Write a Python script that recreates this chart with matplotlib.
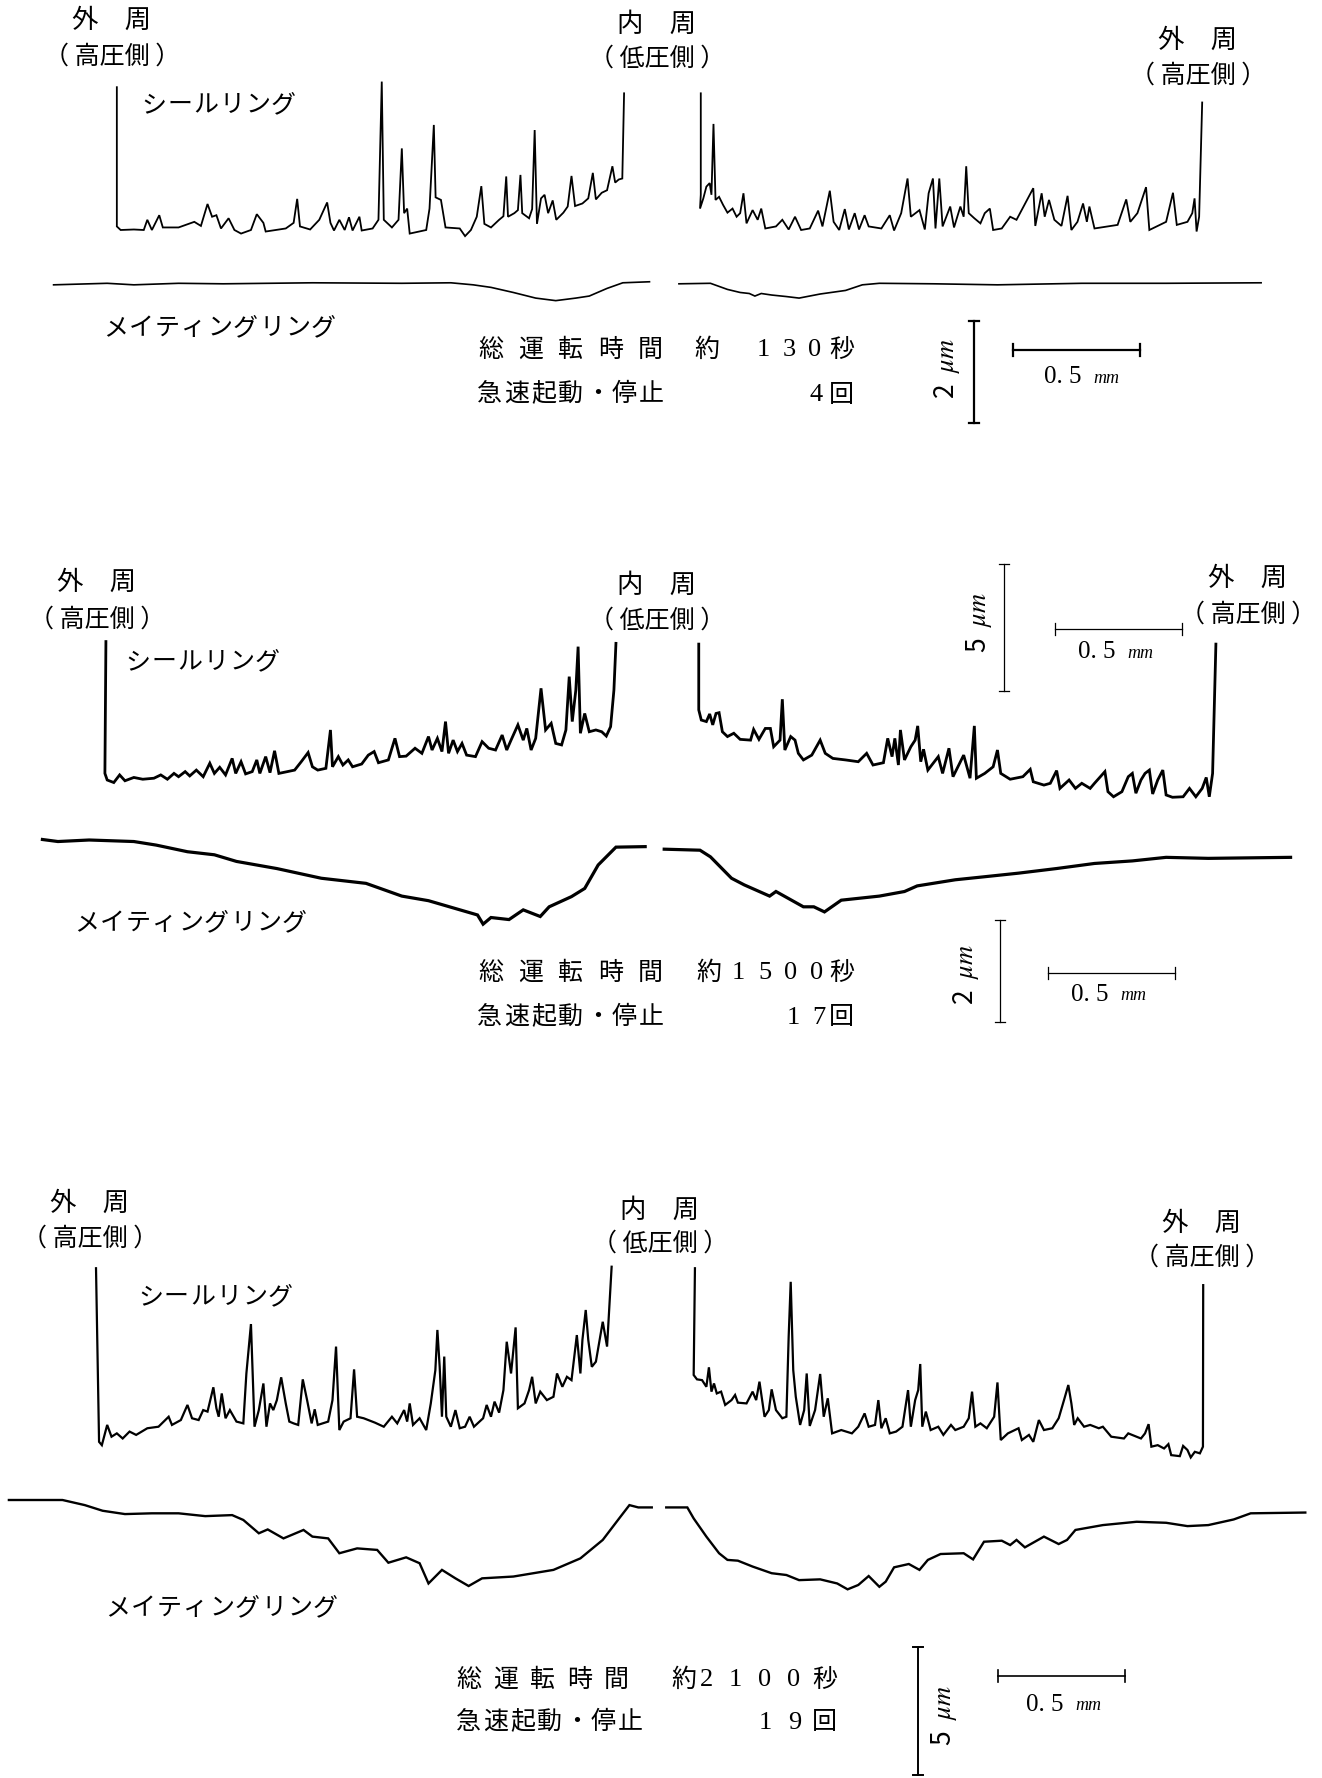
import matplotlib
matplotlib.use("Agg")
import matplotlib.pyplot as plt

W, H = 1322, 1778
PX_PER_MM = 254.0

# surface profiles: (distance from left edge in mm, height in um)
P1_SEAL_L = [(0.460, 2.80), (0.460, 0.07), (0.475, 0.00), (0.527, 0.01), (0.566, 0.00), (0.580, 0.20),
             (0.598, 0.00), (0.627, 0.29), (0.641, 0.05), (0.703, 0.05), (0.765, 0.16), (0.791, 0.08),
             (0.817, 0.51), (0.835, 0.26), (0.852, 0.29), (0.870, 0.03), (0.900, 0.23), (0.923, 0.00),
             (0.949, -0.07), (0.988, 0.00), (1.011, 0.31), (1.037, 0.14), (1.046, -0.03), (1.125, 0.03),
             (1.156, 0.14), (1.170, 0.61), (1.181, 0.07), (1.221, 0.01), (1.257, 0.20), (1.288, 0.54),
             (1.301, 0.14), (1.315, -0.01), (1.336, 0.20), (1.357, 0.00), (1.374, 0.25), (1.388, -0.01),
             (1.415, 0.26), (1.424, -0.01), (1.467, 0.03), (1.490, 0.20), (1.503, 2.91), (1.511, 0.20),
             (1.543, 0.05), (1.569, 0.20), (1.582, 1.60), (1.591, 0.33), (1.603, 0.42), (1.613, -0.07),
             (1.678, 0.00), (1.691, 0.42), (1.708, 2.06), (1.715, 0.64), (1.736, 0.59), (1.754, 0.05),
             (1.810, 0.03), (1.831, -0.12), (1.854, 0.00), (1.877, 0.26), (1.895, 0.86), (1.907, 0.12),
             (1.933, 0.05), (1.965, 0.20), (1.982, 0.27), (1.993, 1.05), (2.000, 0.26), (2.025, 0.33),
             (2.039, 0.39), (2.049, 1.08), (2.056, 0.33), (2.083, 0.23), (2.095, 0.41), (2.105, 1.96),
             (2.114, 0.12), (2.130, 0.62), (2.144, 0.69), (2.158, 0.33), (2.176, 0.58), (2.190, 0.20),
             (2.218, 0.34), (2.235, 0.46), (2.250, 1.06), (2.264, 0.47), (2.293, 0.52), (2.316, 0.62),
             (2.334, 1.12), (2.346, 0.60), (2.369, 0.73), (2.390, 0.78), (2.411, 1.25), (2.422, 0.93),
             (2.436, 0.99), (2.450, 1.01), (2.457, 2.68)]
P1_SEAL_R = [(2.759, 2.68), (2.759, 0.69), (2.756, 0.42), (2.769, 0.62), (2.781, 0.85), (2.794, 0.92),
             (2.801, 0.69), (2.809, 2.08), (2.817, 0.59), (2.831, 0.65), (2.847, 0.49), (2.864, 0.34),
             (2.884, 0.42), (2.900, 0.26), (2.914, 0.33), (2.927, 0.72), (2.939, 0.13), (2.963, 0.39),
             (2.983, 0.20), (2.997, 0.42), (3.013, 0.03), (3.055, 0.07), (3.080, 0.20), (3.105, 0.01),
             (3.130, 0.26), (3.154, 0.00), (3.188, 0.03), (3.221, 0.38), (3.238, 0.07), (3.267, 0.77),
             (3.282, 0.16), (3.304, 0.00), (3.326, 0.41), (3.342, 0.01), (3.365, 0.33), (3.382, 0.01),
             (3.404, 0.29), (3.420, 0.07), (3.470, 0.03), (3.503, 0.29), (3.520, -0.01), (3.548, 0.33),
             (3.573, 1.01), (3.586, 0.26), (3.620, 0.39), (3.641, 0.01), (3.656, 0.72), (3.673, 1.01),
             (3.683, 0.03), (3.698, 1.01), (3.711, 0.07), (3.741, 0.46), (3.756, 0.05), (3.781, 0.46),
             (3.794, 0.26), (3.804, 1.25), (3.814, 0.33), (3.836, 0.23), (3.860, 0.13), (3.877, 0.33),
             (3.897, 0.42), (3.910, 0.00), (3.944, 0.03), (3.977, 0.26), (4.002, 0.20), (4.068, 0.82),
             (4.076, 0.08), (4.101, 0.72), (4.113, 0.26), (4.130, 0.59), (4.151, 0.20), (4.179, 0.08),
             (4.203, 0.67), (4.218, 0.00), (4.242, 0.16), (4.264, 0.52), (4.279, 0.16), (4.289, 0.46),
             (4.309, 0.03), (4.400, 0.10), (4.434, 0.60), (4.450, 0.16), (4.478, 0.33), (4.512, 0.84),
             (4.525, 0.00), (4.591, 0.16), (4.618, 0.73), (4.633, 0.10), (4.675, 0.16), (4.694, 0.33),
             (4.703, 0.62), (4.711, -0.03), (4.721, 0.26), (4.733, 2.50)]
P1_MATE_L = [(0.211, -0.03), (0.351, -0.01), (0.422, 0.00), (0.527, -0.03), (0.703, 0.00), (0.879, -0.01),
             (1.230, 0.01), (1.582, 0.00), (1.775, 0.01), (1.863, -0.03), (1.933, -0.08), (2.021, -0.18),
             (2.109, -0.29), (2.188, -0.34), (2.267, -0.29), (2.320, -0.25), (2.390, -0.10), (2.452, 0.01),
             (2.557, 0.03)]
P1_MATE_R = [(2.673, -0.01), (2.797, 0.00), (2.864, -0.12), (2.914, -0.18), (2.950, -0.20), (2.972, -0.25),
             (2.997, -0.20), (3.038, -0.23), (3.096, -0.26), (3.146, -0.29), (3.229, -0.21), (3.329, -0.14),
             (3.395, -0.03), (3.462, 0.00), (3.678, -0.01), (3.927, -0.03), (4.259, 0.00), (4.591, 0.00),
             (4.965, 0.01)]

P2_SEAL_L = [(0.417, 5.45), (0.413, 0.26), (0.422, 0.00), (0.448, -0.10), (0.471, 0.20), (0.492, -0.03),
             (0.527, 0.10), (0.562, 0.03), (0.606, 0.07), (0.633, 0.20), (0.659, 0.03), (0.685, 0.26),
             (0.703, 0.13), (0.729, 0.33), (0.747, 0.16), (0.773, 0.39), (0.800, 0.13), (0.826, 0.66),
             (0.844, 0.26), (0.865, 0.50), (0.888, 0.20), (0.914, 0.85), (0.928, 0.26), (0.949, 0.72),
             (0.967, 0.24), (0.993, 0.33), (1.011, 0.79), (1.023, 0.26), (1.046, 0.92), (1.063, 0.29),
             (1.081, 1.15), (1.098, 0.26), (1.160, 0.39), (1.186, 0.72), (1.213, 1.08), (1.230, 0.52),
             (1.251, 0.39), (1.283, 0.46), (1.301, 1.97), (1.309, 0.52), (1.332, 0.92), (1.350, 0.59),
             (1.371, 0.79), (1.388, 0.52), (1.424, 0.63), (1.450, 0.98), (1.473, 1.12), (1.490, 0.68),
             (1.529, 0.79), (1.555, 1.64), (1.573, 0.92), (1.599, 0.94), (1.634, 1.25), (1.661, 1.05),
             (1.687, 1.71), (1.701, 1.18), (1.722, 1.64), (1.740, 1.12), (1.754, 2.30), (1.766, 1.05),
             (1.784, 1.57), (1.801, 1.12), (1.819, 1.44), (1.837, 0.98), (1.872, 0.92), (1.898, 1.51),
             (1.924, 1.25), (1.951, 1.18), (1.977, 1.77), (1.995, 1.18), (2.012, 1.57), (2.039, 2.17),
             (2.060, 1.57), (2.074, 2.03), (2.091, 1.18), (2.109, 1.64), (2.130, 3.61), (2.148, 1.97),
             (2.170, 2.23), (2.188, 1.44), (2.211, 1.38), (2.228, 1.97), (2.241, 4.07), (2.253, 2.30),
             (2.267, 3.54), (2.276, 5.25), (2.285, 1.84), (2.302, 2.62), (2.320, 1.90), (2.346, 1.97),
             (2.369, 1.90), (2.387, 1.73), (2.404, 2.10), (2.417, 3.54), (2.425, 5.38)]
P2_SEAL_R = [(2.751, 5.35), (2.751, 2.76), (2.761, 2.36), (2.781, 2.30), (2.794, 2.60), (2.806, 2.17),
             (2.819, 2.62), (2.831, 2.65), (2.844, 1.90), (2.864, 1.71), (2.889, 1.84), (2.914, 1.60),
             (2.955, 1.57), (2.967, 1.99), (2.988, 1.60), (3.013, 2.03), (3.033, 2.03), (3.046, 1.31),
             (3.071, 1.57), (3.080, 3.18), (3.090, 1.18), (3.113, 1.71), (3.130, 1.57), (3.143, 1.05),
             (3.163, 0.79), (3.196, 0.98), (3.229, 1.57), (3.249, 1.05), (3.279, 0.85), (3.329, 0.79),
             (3.379, 0.72), (3.412, 1.05), (3.437, 0.59), (3.478, 0.68), (3.495, 1.64), (3.512, 0.92),
             (3.523, 1.64), (3.537, 0.59), (3.545, 1.97), (3.561, 0.79), (3.586, 1.31), (3.603, 1.57),
             (3.613, 2.13), (3.625, 0.72), (3.636, 1.21), (3.653, 0.39), (3.694, 0.92), (3.711, 0.26),
             (3.736, 1.25), (3.752, 0.13), (3.794, 0.98), (3.819, 0.07), (3.836, 2.13), (3.844, 0.07),
             (3.877, 0.26), (3.910, 0.52), (3.927, 1.18), (3.940, 0.26), (3.977, 0.03), (4.027, 0.13),
             (4.056, 0.42), (4.068, -0.07), (4.110, -0.20), (4.135, -0.13), (4.160, 0.37), (4.173, -0.33),
             (4.209, 0.00), (4.234, -0.33), (4.259, -0.13), (4.292, -0.33), (4.309, -0.13), (4.350, 0.33),
             (4.362, -0.46), (4.384, -0.66), (4.417, -0.46), (4.442, 0.13), (4.458, 0.26), (4.472, -0.52),
             (4.492, 0.00), (4.508, 0.26), (4.525, 0.39), (4.538, -0.55), (4.558, 0.00), (4.578, 0.39),
             (4.591, -0.59), (4.616, -0.68), (4.658, -0.66), (4.683, -0.33), (4.708, -0.66), (4.733, -0.33),
             (4.749, 0.10), (4.761, -0.66), (4.774, 0.26), (4.787, 5.35)]
P2_MATE_L = [(0.167, 0.01), (0.228, -0.03), (0.351, 0.00), (0.527, -0.03), (0.615, -0.10), (0.738, -0.23),
             (0.844, -0.29), (0.931, -0.42), (1.090, -0.56), (1.265, -0.75), (1.441, -0.85), (1.582, -1.10),
             (1.687, -1.19), (1.880, -1.47), (1.902, -1.65), (1.933, -1.52), (2.004, -1.56), (2.060, -1.37),
             (2.127, -1.50), (2.162, -1.31), (2.250, -1.11), (2.302, -0.95), (2.355, -0.49), (2.425, -0.14),
             (2.540, -0.13)]
P2_MATE_R = [(2.615, -0.18), (2.756, -0.20), (2.797, -0.33), (2.880, -0.75), (2.930, -0.88), (3.030, -1.10),
             (3.055, -1.01), (3.163, -1.31), (3.204, -1.31), (3.246, -1.41), (3.312, -1.18), (3.462, -1.10),
             (3.561, -1.01), (3.611, -0.90), (3.761, -0.78), (3.877, -0.72), (4.010, -0.65), (4.159, -0.56),
             (4.309, -0.46), (4.458, -0.41), (4.591, -0.34), (4.757, -0.36), (5.081, -0.34)]

P3_SEAL_L = [(0.378, 6.58), (0.390, -0.20), (0.401, -0.33), (0.422, 0.46), (0.439, 0.00), (0.460, 0.13),
             (0.483, -0.07), (0.510, 0.20), (0.536, 0.07), (0.580, 0.33), (0.624, 0.39), (0.664, 0.78),
             (0.677, 0.46), (0.712, 0.65), (0.738, 1.24), (0.756, 0.72), (0.782, 0.65), (0.800, 1.04),
             (0.817, 0.98), (0.840, 1.93), (0.852, 1.11), (0.861, 0.78), (0.873, 1.69), (0.888, 0.72),
             (0.905, 1.04), (0.931, 0.59), (0.958, 0.52), (0.970, 2.47), (0.988, 4.40), (1.002, 0.39),
             (1.019, 1.04), (1.037, 2.08), (1.049, 0.39), (1.063, 1.30), (1.076, 1.04), (1.090, 1.43),
             (1.107, 2.32), (1.125, 1.30), (1.139, 0.59), (1.156, 0.52), (1.174, 0.46), (1.192, 2.24),
             (1.209, 1.43), (1.227, 0.52), (1.239, 1.07), (1.251, 0.46), (1.292, 0.59), (1.309, 1.43),
             (1.323, 3.52), (1.336, 0.26), (1.353, 0.59), (1.380, 0.72), (1.394, 2.63), (1.406, 0.78),
             (1.432, 0.72), (1.476, 0.55), (1.511, 0.39), (1.543, 0.78), (1.564, 0.52), (1.591, 1.04),
             (1.603, 0.59), (1.613, 1.30), (1.626, 0.46), (1.652, 0.72), (1.678, 0.26), (1.696, 1.30),
             (1.714, 2.60), (1.722, 4.17), (1.731, 2.73), (1.740, 0.78), (1.749, 3.13), (1.757, 0.78),
             (1.775, 0.39), (1.793, 1.04), (1.810, 0.33), (1.831, 0.39), (1.849, 0.78), (1.866, 0.39),
             (1.902, 0.72), (1.916, 1.24), (1.933, 0.78), (1.947, 1.37), (1.965, 0.94), (1.982, 1.82),
             (1.995, 3.71), (2.012, 2.47), (2.030, 4.27), (2.039, 1.11), (2.065, 1.30), (2.083, 1.82),
             (2.095, 2.34), (2.109, 1.30), (2.127, 1.76), (2.153, 1.43), (2.179, 1.56), (2.193, 2.47),
             (2.214, 1.95), (2.232, 2.34), (2.250, 2.21), (2.271, 3.97), (2.285, 2.47), (2.293, 3.78),
             (2.306, 4.95), (2.316, 3.78), (2.330, 2.73), (2.346, 2.93), (2.373, 4.49), (2.390, 3.52),
             (2.408, 6.64)]
P3_SEAL_R = [(2.736, 6.58), (2.731, 2.41), (2.744, 2.24), (2.764, 2.21), (2.781, 1.95), (2.791, 2.71),
             (2.801, 1.76), (2.811, 2.08), (2.822, 1.69), (2.839, 1.76), (2.855, 1.24), (2.880, 1.43),
             (2.894, 1.63), (2.905, 1.33), (2.939, 1.30), (2.963, 1.76), (2.977, 1.43), (2.990, 2.15),
             (3.010, 0.78), (3.027, 1.04), (3.038, 1.85), (3.055, 1.04), (3.080, 0.72), (3.096, 0.78),
             (3.105, 3.91), (3.113, 6.05), (3.123, 2.60), (3.133, 1.56), (3.150, 0.46), (3.166, 1.04),
             (3.176, 2.47), (3.188, 0.42), (3.209, 1.04), (3.229, 2.45), (3.243, 0.78), (3.259, 1.50),
             (3.276, 0.13), (3.312, 0.26), (3.354, 0.13), (3.379, 0.39), (3.404, 0.91), (3.420, 0.39),
             (3.445, 0.46), (3.458, 1.43), (3.470, 0.33), (3.487, 0.72), (3.503, 0.13), (3.528, 0.20),
             (3.553, 0.39), (3.575, 1.82), (3.586, 0.39), (3.603, 1.43), (3.615, 1.82), (3.623, 2.84),
             (3.631, 0.39), (3.645, 0.98), (3.664, 0.26), (3.694, 0.39), (3.714, 0.07), (3.744, 0.46),
             (3.761, 0.26), (3.794, 0.39), (3.814, 0.72), (3.827, 1.76), (3.840, 0.39), (3.860, 0.52),
             (3.885, 0.33), (3.914, 0.78), (3.927, 2.12), (3.940, -0.13), (3.968, 0.13), (4.010, 0.33),
             (4.023, -0.13), (4.051, 0.07), (4.068, -0.20), (4.090, 0.65), (4.110, 0.26), (4.143, 0.33),
             (4.168, 0.72), (4.189, 1.43), (4.206, 2.02), (4.218, 1.30), (4.229, 0.46), (4.243, 0.72),
             (4.268, 0.39), (4.292, 0.46), (4.326, 0.33), (4.342, 0.39), (4.375, 0.00), (4.425, -0.07),
             (4.442, 0.13), (4.492, -0.07), (4.508, 0.13), (4.522, 0.49), (4.533, -0.39), (4.558, -0.33),
             (4.583, -0.46), (4.600, -0.29), (4.611, -0.72), (4.645, -0.76), (4.658, -0.36), (4.675, -0.52),
             (4.688, -0.81), (4.704, -0.59), (4.724, -0.65), (4.736, -0.39), (4.737, 5.92)]
P3_MATE_L = [(0.035, 0.00), (0.246, 0.00), (0.334, -0.20), (0.404, -0.42), (0.492, -0.55), (0.598, -0.52),
             (0.703, -0.52), (0.808, -0.63), (0.914, -0.59), (0.958, -0.78), (1.019, -1.30), (1.054, -1.15),
             (1.116, -1.50), (1.195, -1.17), (1.230, -1.43), (1.292, -1.50), (1.336, -2.08), (1.406, -1.89),
             (1.485, -1.95), (1.529, -2.45), (1.599, -2.24), (1.652, -2.47), (1.687, -3.26), (1.740, -2.73),
             (1.793, -3.06), (1.845, -3.36), (1.898, -3.06), (2.021, -2.99), (2.179, -2.73), (2.285, -2.28),
             (2.373, -1.56), (2.443, -0.65), (2.478, -0.20), (2.513, -0.29), (2.566, -0.29)]
P3_MATE_R = [(2.623, -0.29), (2.706, -0.29), (2.731, -0.72), (2.781, -1.43), (2.831, -2.08), (2.864, -2.34),
             (2.905, -2.37), (2.963, -2.60), (3.038, -2.86), (3.096, -2.93), (3.146, -3.13), (3.229, -3.10),
             (3.296, -3.26), (3.337, -3.49), (3.379, -3.32), (3.420, -2.97), (3.462, -3.39), (3.487, -3.19),
             (3.520, -2.63), (3.578, -2.50), (3.620, -2.73), (3.653, -2.34), (3.703, -2.11), (3.794, -2.08),
             (3.831, -2.32), (3.874, -1.63), (3.944, -1.59), (3.977, -1.76), (4.002, -1.56), (4.035, -1.85),
             (4.110, -1.43), (4.168, -1.72), (4.201, -1.56), (4.234, -1.17), (4.342, -0.98), (4.475, -0.85),
             (4.591, -0.89), (4.675, -1.02), (4.757, -0.98), (4.857, -0.76), (4.924, -0.52), (5.139, -0.49)]

SCALE_MM = 0.5

plt.rcParams['font.family'] = ['Noto Sans CJK JP', 'DejaVu Sans']
plt.rcParams['mathtext.fontset'] = 'stix'

fig = plt.figure(figsize=(W / 100, H / 100), dpi=100)
fig.patch.set_facecolor('white')


def trace_axes(base_px, px_per_um):
    ax = fig.add_axes([0, 0, 1, 1])
    ax.set_xlim(0, W / PX_PER_MM)
    ax.set_ylim((base_px - H) / px_per_um, base_px / px_per_um)
    ax.axis('off')
    ax.patch.set_alpha(0)
    return ax


def draw(ax, pts, lw):
    xs = [p[0] for p in pts]
    ys = [p[1] for p in pts]
    ax.plot(xs, ys, color='black', lw=lw, solid_joinstyle='miter')


def vbar(ax, x, y0, length, lw):
    cap = 5 / PX_PER_MM
    ax.plot([x, x], [y0, y0 + length], color='black', lw=lw)
    for y in (y0, y0 + length):
        ax.plot([x - cap, x + cap], [y, y], color='black', lw=lw)


def hbar(ax, x0, y, px_per_um, lw):
    cap = 6 / px_per_um
    ax.plot([x0, x0 + SCALE_MM], [y, y], color='black', lw=lw)
    for x in (x0, x0 + SCALE_MM):
        ax.plot([x, x], [y - cap, y + cap], color='black', lw=lw)


def label(x, y, s, size=18, ha='center', **kw):
    fig.text(x / W, 1 - y / H, s, fontsize=size, ha=ha, va='center', **kw)


def spaced(x0, y, s, step, size=18):
    for i, ch in enumerate(s):
        label(x0 + i * step, y, ch, size, ha='left')


def digits(x0, y, s, step, size=19):
    for i, ch in enumerate(s):
        label(x0 + i * step, y, ch, size, ha='left', family='Liberation Serif')


def mm_label(x, y, size=18):
    label(x, y, "0. 5", size, ha='left', family='Liberation Serif')
    label(x + 49, y + 1, "mm", 13, ha='left', family='Liberation Serif', style='italic')


def um_label(x, y, val, size=19):
    fig.text(x / W, 1 - y / H, val + r"  $\mathit{\mu m}$", fontsize=size, rotation=90,
             ha='center', va='center')


def side_labels(cx_l, y_l, cx_in, y_in, cx_r, y_r, seal_x, seal_y, mate_x, mate_y, gap):
    label(cx_l, y_l, "外　周", 19)
    label(cx_l, y_l + gap, "（ 高圧側 ）", 18)
    label(cx_in, y_in, "内　周", 19)
    label(cx_in, y_in + gap - 2, "（ 低圧側 ）", 18)
    label(cx_r, y_r, "外　周", 19)
    label(cx_r, y_r + gap - 1, "（ 高圧側 ）", 18)
    spaced(seal_x, seal_y, "シールリング", 26, 18)
    spaced(mate_x, mate_y, "メイティングリング", 26, 18)


# ---- panel 1 ----
ax = trace_axes(230, 51)
draw(ax, P1_SEAL_L, 1.3)
draw(ax, P1_SEAL_R, 1.3)
ax = trace_axes(283.3, 51)
draw(ax, P1_MATE_L, 1.2)
draw(ax, P1_MATE_R, 1.2)
vbar(ax, 3.835, -2.74, 2, 1.6)
hbar(ax, 3.988, -1.31, 51, 1.6)

side_labels(112, 20, 657, 24, 1198, 40, 141, 105, 103, 328, 37)
spaced(478, 350, "総運転時間", 40)
label(694, 350, "約", 18, ha='left')
digits(757, 350, "130", 25.5)
label(829, 350, "秒", 18, ha='left')
spaced(477, 394, "急速起動・停止", 27)
digits(810, 395, "4", 25)
label(829, 395, "回", 18, ha='left')
um_label(947, 369, "2")
mm_label(1044, 377)

# ---- panel 2 ----
ax = trace_axes(780, 25.4)
draw(ax, P2_SEAL_L, 2.0)
draw(ax, P2_SEAL_R, 2.0)
vbar(ax, 3.953, 3.50, 5, 0.9)
hbar(ax, 4.154, 5.94, 25.4, 0.9)
ax = trace_axes(840, 51)
draw(ax, P2_MATE_L, 2.3)
draw(ax, P2_MATE_R, 2.3)
vbar(ax, 3.937, -3.57, 2, 0.9)
hbar(ax, 4.126, -2.61, 51, 0.9)

side_labels(97, 582, 657, 585, 1248, 578, 125, 662, 74, 923, 38)
spaced(478, 973, "総運転時間", 40)
label(696, 973, "約", 18, ha='left')
digits(732, 973, "1500", 26)
label(829, 973, "秒", 18, ha='left')
spaced(477, 1017, "急速起動・停止", 27)
digits(787, 1018, "17", 25)
label(829, 1017, "回", 18, ha='left')
um_label(979, 623, "5")
mm_label(1078, 652)
um_label(966, 975, "2")
mm_label(1071, 995)

# ---- panel 3 ----
ax = trace_axes(1436.7, 25.6)
draw(ax, P3_SEAL_L, 1.6)
draw(ax, P3_SEAL_R, 1.6)
vbar(ax, 3.614, -13.21, 5, 1.4)
hbar(ax, 3.929, -9.35, 25.6, 1.2)
ax = trace_axes(1500, 25.6)
draw(ax, P3_MATE_L, 1.7)
draw(ax, P3_MATE_R, 1.7)

side_labels(90, 1203, 660, 1210, 1202, 1223, 138, 1297, 105, 1608, 36)
spaced(456, 1680, "総運転時間", 37)
label(671, 1680, "約", 18, ha='left')
digits(700, 1680, "2100", 29)
label(812, 1680, "秒", 18, ha='left')
spaced(456, 1722, "急速起動・停止", 27)
digits(759, 1723, "19", 29)
label(812, 1722, "回", 18, ha='left')
um_label(944, 1716, "5")
mm_label(1026, 1705)

fig.savefig("out.png", dpi=100, facecolor='white')
